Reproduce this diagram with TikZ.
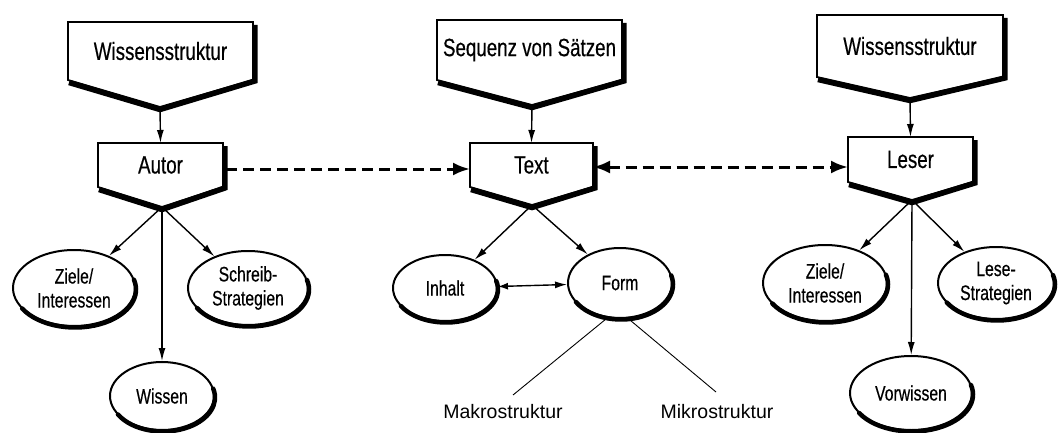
\documentclass[tikz,border=0pt]{standalone}
\usepackage{fontspec}
\setmainfont{Liberation Sans}
\newfontfamily\cond[FakeStretch=0.75,FakeBold=0.4]{Liberation Sans}
\usetikzlibrary{arrows.meta,shapes.geometric,calc}
\tikzset{
  boxline/.style={line width=1.8pt, line join=miter, fill=white},
  boxshadow/.style={line width=5.5pt, line join=miter},
  boxtext/.style={inner sep=0pt, font=\cond\fontsize{25}{27}\selectfont},
  ellnode/.style={ellipse, draw, line width=2pt, inner sep=0pt, align=center,
    font=\cond\fontsize{21}{24}\selectfont},
  ellshadow/.style={line width=4.5pt, line cap=round},
  sarrow/.style={line width=1.4pt, -{Latex[length=13pt,width=7pt]}},
  darrow/.style={line width=3pt, dash pattern=on 11pt off 6pt, -{Latex[length=17pt,width=13pt]}},
  plainlbl/.style={inner sep=0pt, font=\fontsize{19.5}{22}\selectfont},
  thinline/.style={line width=0.9pt}
}
% name, left, right, top, side bottom, tip x, tip y, text
\newcommand{\pbox}[8]{%
  \draw[boxline] (#2,#4) -- (#3,#4) -- (#3,#5) -- (#6,#7) -- (#2,#5) -- cycle;
  \draw[boxshadow] (#3+1.8,#4-3) -- (#3+1.8,#5-1) -- (#6,#7-2.5) -- (#2+1,#5-2.5);
  \node[boxtext] (#1) at ({(#2+#3)/2},{(#4+#5)/2}) {#8};
  \coordinate (#1-tip) at (#6,#7);
  \coordinate (#1-top) at ({(#2+#3)/2},#4);
  \coordinate (#1-west) at (#2,{(#4+#5)/2});
  \coordinate (#1-east) at (#3,{(#4+#5)/2});
}
% name, x, y, rx, ry, text
\newcommand{\ellnode}[6]{%
  \node[ellnode, minimum width={2*#4}, minimum height={2*#5}] (#1) at (#2,#3) {#6};
  \draw[ellshadow] ($(#1.center)+({#4*cos(210)+1},{#5*sin(210)-1.5})$)
    arc[start angle=210, end angle=375, x radius=#4, y radius=#5];
}
\begin{document}
\begin{tikzpicture}[x=1pt, y=1pt]
\useasboundingbox (0,0) rectangle (1060,432);
% top boxes
\pbox{W1}{68}{253}{410}{352}{160}{325}{Wissensstruktur}
\pbox{Seq}{437}{622}{412}{352}{532}{327}{Sequenz von Sätzen}
\pbox{W3}{817}{1003}{417}{355}{910}{334}{Wissensstruktur}
% middle boxes
\pbox{Autor}{98}{223}{289}{245}{162}{225}{Autor}
\pbox{Text}{470}{593}{289}{245}{532}{227}{Text}
\pbox{Leser}{848}{973}{295}{250}{912}{232}{Leser}
% ellipses
\ellnode{ZieleA}{74}{144}{61}{38}{Ziele/\\Interessen}
\ellnode{Schreib}{248}{144}{60}{37}{Schreib-\\Strategien}
\ellnode{Wissen}{162}{36}{52}{34}{Wissen}
\ellnode{Inhalt}{445}{144}{52}{33}{Inhalt}
\ellnode{Form}{620}{149}{52}{35}{Form}
\ellnode{ZieleL}{825}{149}{62}{38}{Ziele/\\Interessen}
\ellnode{Lese}{996}{149}{58}{36}{Lese-\\Strategien}
\ellnode{Vorwissen}{911}{39}{61}{37}{Vorwissen}
% labels
\node[plainlbl] (Makro) at (503,20) {Makrostruktur};
\node[plainlbl] (Mikro) at (717,20) {Mikrostruktur};
\coordinate (MakroEnd) at (513,37);
\coordinate (MikroEnd) at (716,40);
% connectors
\draw[sarrow] (W1-tip) -- (Autor-top);
\draw[sarrow] (Seq-tip) -- (Text-top);
\draw[sarrow] (W3-tip) -- (Leser-top);
\draw[sarrow] (Autor-tip) -- (ZieleA);
\draw[sarrow] (Autor-tip) -- (Schreib);
\draw[sarrow] (Autor-tip) -- (Wissen);
\draw[sarrow] (Text-tip) -- (Inhalt);
\draw[sarrow] (Text-tip) -- (Form);
\draw[sarrow] (Leser-tip) -- (ZieleL);
\draw[sarrow] (Leser-tip) -- (Lese);
\draw[sarrow] (Leser-tip) -- (Vorwissen);
\draw[line width=1.4pt, {Latex[length=10pt,width=7pt]}-{Latex[length=12pt,width=7pt]}] (Inhalt) -- (Form);
\draw[thinline] (Form.250) -- (MakroEnd);
\draw[thinline] (Form.283) -- (MikroEnd);
\draw[darrow] ([xshift=3pt,yshift=-4pt]Autor-east) -- ([yshift=-4pt]Text-west);
\draw[darrow, {Latex[length=17pt,width=13pt]}-{Latex[length=17pt,width=13pt]}] ([yshift=-2pt]Text-east) -- ([yshift=-2pt]Text-east -| Leser-west);
\end{tikzpicture}
\end{document}
